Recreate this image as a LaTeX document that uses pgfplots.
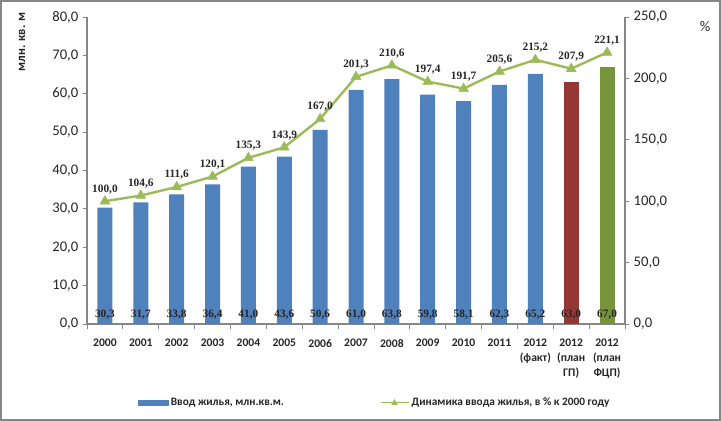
\documentclass[border=0pt]{standalone}
\usepackage{fontspec}
\setmainfont{Carlito}
\newfontfamily\labfont{Liberation Serif}
\usepackage{pgfplots}
\pgfplotsset{compat=1.18}
\definecolor{barblue}{HTML}{4F81BD}
\definecolor{barred}{HTML}{953735}
\definecolor{bargreen}{HTML}{77933C}
\definecolor{linegreen}{HTML}{9BBB59}
\definecolor{axisgray}{HTML}{868686}
\begin{document}
\begin{tikzpicture}
% picture frame (1px = 0.75pt); axis origin at pixel (87,324)
\path[use as bounding box] (-65.25pt,-72.75pt) rectangle (475.5pt,243pt);
\draw[axisgray, line width=0.9pt] (-64.5pt,-72pt) rectangle (474.75pt,242.25pt);
\pgfplotsset{
  common/.style={
    scale only axis, width=403.5pt, height=230.25pt,
    xmin=-0.5, xmax=14.5,
    /pgf/number format/use comma,
    /pgf/number format/fixed,
    /pgf/number format/fixed zerofill,
    /pgf/number format/precision=1,
    /pgf/number format/assume math mode=true,
    tick align=outside,
    tick style={axisgray, line width=0.6pt},
    major tick length=3pt,
    axis line style={axisgray, line width=0.8pt},
    yticklabel style={font=\fontsize{11}{12}\selectfont, text=black!85},
  }
}
\begin{axis}[common,
  ymin=0, ymax=80,
  axis y line*=left, axis x line*=bottom,
  ytick={0,10,...,80},
  xtick={0,...,14},
  major x tick style={draw=none},
  minor xtick={-0.5,0.5,...,14.5},
  minor tick length=4pt,
  xticklabels={2000,2001,2002,2003,2004,2005,2006,2007,2008,2009,2010,2011,{2012\\(факт)},{2012\\(план\\ГП)},{2012\\(план\\ФЦП)}},
  xticklabel style={align=center, font=\bfseries\fontsize{8.7}{11}\selectfont, yshift=-5pt, text=black!85},
]
\addplot[ybar, bar width=11.25pt, bar shift=0pt, fill=barblue, draw=none] coordinates {
(0,30.3) (1,31.7) (2,33.8) (3,36.4) (4,41.0) (5,43.6) (6,50.6) (7,61.0) (8,63.8) (9,59.8) (10,58.1) (11,62.3) (12,65.2)};
\addplot[ybar, bar width=11.25pt, bar shift=0pt, fill=barred, draw=none] coordinates {(13,63.0)};
\addplot[ybar, bar width=11.25pt, bar shift=0pt, fill=bargreen, draw=none] coordinates {(14,67.0)};
\addplot[draw=none, nodes near coords, point meta=explicit,
  every node near coord/.style={anchor=center, yshift=6.75pt, font=\labfont\bfseries\fontsize{8.5}{10}\selectfont, text=black!85}]
  table[meta=v] {
x y v
0 0 30.3
1 0 31.7
2 0 33.8
3 0 36.4
4 0 41.0
5 0 43.6
6 0 50.6
7 0 61.0
8 0 63.8
9 0 59.8
10 0 58.1
11 0 62.3
12 0 65.2
13 0 63.0
14 0 67.0
};
\end{axis}
\begin{axis}[common,
  ymin=0, ymax=250,
  axis y line*=right, axis x line=none,
  ytick={0,50,...,250},
  legend columns=2,
  legend style={draw=none, fill=none, at={(0.535,-0.257)}, anchor=center,
    font=\bfseries\fontsize{8.5}{10}\selectfont, text=black!85,
    /tikz/every even column/.append style={column sep=70pt}},
]
\addlegendimage{legend image code/.code={\fill[barblue] (0pt,-1.9pt) rectangle (22.5pt,1.9pt);}}
\addlegendentry{Ввод жилья, млн.кв.м.}
\addlegendimage{legend image code/.code={\draw[linegreen, line width=0.8pt] (0pt,0pt) -- (21pt,0pt); \path[linegreen] plot[mark=triangle*, mark size=2.5pt, mark options={fill=linegreen, line width=0.3pt}] coordinates {(10.5pt,0pt)};}}
\addlegendentry{Динамика ввода жилья, в \% к 2000 году}
\addplot[linegreen, line width=1.8pt, mark=triangle*, mark size=4.2pt,
  mark options={solid, line width=0.4pt, fill=linegreen},
  nodes near coords,
  every node near coord/.style={anchor=south, yshift=2pt, font=\labfont\bfseries\fontsize{8.5}{10}\selectfont, text=black!85},
  forget plot] coordinates {
(0,100.0) (1,104.6) (2,111.6) (3,120.1) (4,135.3) (5,143.9) (6,167.0) (7,201.3) (8,210.6) (9,197.4) (10,191.7) (11,205.6) (12,215.2) (13,207.9) (14,221.1)};
\end{axis}
\node[rotate=90, font=\bfseries\fontsize{9.5}{10}\selectfont, text=black!85] at (-48.75pt,211.5pt) {млн. кв. м};
\node[font=\fontsize{11}{12}\selectfont, text=black!85] at (463.5pt,222.75pt) {\%};
\end{tikzpicture}
\end{document}
